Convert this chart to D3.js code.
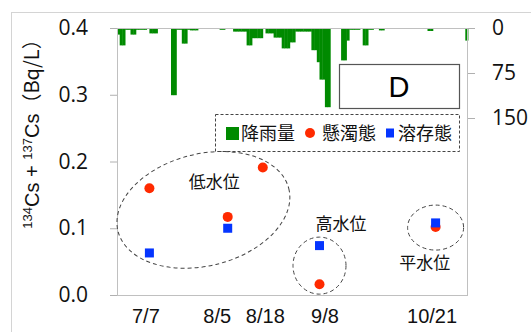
<!DOCTYPE html>
<html><head><meta charset="utf-8">
<script src="https://cdn.jsdelivr.net/npm/d3@7"></script>
<style>body{margin:0;background:#fff}svg{display:block}</style>
</head><body>
<script>
// ---- data ----
const rainStart = "2011-06-25";
const rainfall = [11,29,29,3,3,11,11,3,3,3,3,0,9,9,9,0,0,0,0,0,
  112,112,3,3,26,26,3,4,4,4,0,0,0,0,0,0,0,0,3,3,
  0,0,0,6,6,6,6,6,29,29,17,17,17,17,0,9,9,9,16,16,
  16,34,34,34,24,24,6,6,6,6,6,6,37,37,57,86,86,132,132,0,
  0,0,0,54,54,21,3,3,3,3,0,29,29,3,3,0,0,4,4,0,
  0,0,0,0,0,0,0,0,0,0,0,0,0,0,0,5,5,0,0,0,
  0,0,0,0,0,0,0,0,0,21];
const sampleDates = ["2011-07-07","2011-08-05","2011-08-18","2011-09-08","2011-10-21"];
const suspended = [0.160, 0.117, 0.191, 0.016, 0.102];
const dissolved = [0.063, 0.100, null, 0.074, 0.108];
const xTickLabels = ["7/7","8/5","8/18","9/8","10/21"];
const yTicks = [0, 0.1, 0.2, 0.3, 0.4];
const rainTicks = [0, 75, 150];
const legendLabels = ["降雨量","懸濁態","溶存態"];
const groupNames = ["低水位","高水位","平水位"];
const groupCenterDates = ["2011-07-27","2011-09-08","2011-10-21"];
const groupCenterValues = [0.1275, 0.044, 0.101];
const groupLabelDates = ["2011-07-31","2011-09-16","2011-10-17"];
const groupLabelValues = [0.169, 0.106, 0.048];
const panelLabel = "D";

// ---- layout / style ----
const W = 531, H = 332;
const L = 117, R = 468, T = 28, B = 295;
const tickNudge = [-4, -11, 2, 5, -4];
const ellipseShape = [{rx:88, ry:56, rot:-14},{rx:26.5, ry:28.5, rot:0},{rx:28, ry:22.5, rot:0}];
const green = "#008a00", red = "#ff2a00", blue = "#0535ff";
const parse = d3.timeParse("%Y-%m-%d");

const svg = d3.select("body").append("svg").attr("width", W).attr("height", H);
svg.append("rect").attr("width", W).attr("height", H).attr("fill", "#fff");
svg.append("rect").attr("x", 11.5).attr("y", 12.5).attr("width", 700).attr("height", 500)
  .attr("fill", "none").attr("stroke", "#d4d4d4");

const x = d3.scaleTime().domain([parse("2011-06-25"), parse("2011-11-02")]).range([L, R]);
const y = d3.scaleLinear().domain([0, 0.4]).range([B, T]);
const yr = d3.scaleLinear().domain([0, 150]).range([T, T + 90]);

// rainfall bars
const s0 = parse(rainStart);
const rainData = rainfall.map((v, i) => ({d: d3.timeDay.offset(s0, i), v}));
svg.append("g").selectAll("rect").data(rainData.filter(r => r.v > 0)).join("rect")
  .attr("x", r => x(r.d))
  .attr("width", r => x(d3.timeDay.offset(r.d, 1)) - x(r.d) + 0.4)
  .attr("y", yr(0))
  .attr("height", r => yr(r.v) - yr(0))
  .attr("fill", green);

// plot frame
svg.append("rect").attr("x", L + 0.5).attr("y", T + 0.5).attr("width", R - L - 1).attr("height", B - T)
  .attr("fill", "none").attr("stroke", "#c0c0c0");

// left axis
const fontNum = "'Open Sans', 'Noto Sans', sans-serif";
const ly = svg.append("g").attr("transform", `translate(${L},0)`)
  .call(d3.axisLeft(y).tickValues(yTicks).tickFormat(d3.format(".1f")).tickSize(7).tickPadding(22));
ly.select(".domain").remove();
ly.selectAll("line").attr("stroke", "#b0b0b0");
ly.selectAll("text").attr("font-family", fontNum).attr("font-size", 21).attr("fill", "#111");

// right axis
const ry = svg.append("g").attr("transform", `translate(${R},0)`)
  .call(d3.axisRight(yr).tickValues(rainTicks).tickSize(7).tickPadding(17));
ry.select(".domain").remove();
ry.selectAll("line").attr("stroke", "#b0b0b0");
ry.selectAll("text").attr("font-family", fontNum).attr("font-size", 21).attr("fill", "#111");

// bottom axis labels
const bx = svg.append("g").attr("transform", `translate(0,${B})`)
  .call(d3.axisBottom(x).tickValues(sampleDates.map(parse)).tickFormat((d, i) => xTickLabels[i]).tickSize(0).tickPadding(14));
bx.select(".domain").remove();
bx.selectAll("text").attr("font-family", "'Liberation Sans', Arial, sans-serif").attr("font-size", 20)
  .attr("fill", "#111").attr("dx", (d, i) => tickNudge[i]);

// y title
const yt = svg.append("text").attr("transform", "translate(39,129) rotate(-90)")
  .attr("text-anchor", "middle").attr("font-family", "'Liberation Sans', 'Noto Sans CJK JP', sans-serif")
  .attr("font-size", 20).attr("fill", "#111");
yt.append("tspan").attr("font-size", 13).attr("dy", -7).text("134");
yt.append("tspan").attr("dy", 7).text("Cs + ");
yt.append("tspan").attr("font-size", 13).attr("dy", -7).text("137");
yt.append("tspan").attr("dy", 7).text("Cs");
yt.append("tspan").attr("font-family", "'Noto Sans CJK JP', sans-serif").text("（Bq/L）");

// D box
svg.append("rect").attr("x", 339.5).attr("y", 64.5).attr("width", 120).attr("height", 44)
  .attr("fill", "#fff").attr("stroke", "#555").attr("stroke-width", 1.2);
svg.append("text").attr("x", 399).attr("y", 97).attr("text-anchor", "middle")
  .attr("font-family", "'Liberation Sans', Arial, sans-serif").attr("font-size", 29).text(panelLabel);

// legend
const lg = svg.append("g");
lg.append("rect").attr("x", 215.5).attr("y", 114.5).attr("width", 244).attr("height", 37)
  .attr("fill", "#fff").attr("stroke", "#444").attr("stroke-dasharray", "3,2");
const cjk = "'Noto Sans CJK JP', sans-serif";
lg.append("rect").attr("x", 226).attr("y", 127).attr("width", 13).attr("height", 13).attr("fill", green);
lg.append("circle").attr("cx", 310).attr("cy", 133).attr("r", 5).attr("fill", red);
lg.append("rect").attr("x", 386).attr("y", 128.5).attr("width", 8).attr("height", 9).attr("fill", blue);
[[241, 0], [322, 1], [398, 2]].forEach(([lx, i]) =>
  lg.append("text").attr("x", lx).attr("y", 140).attr("font-family", cjk).attr("font-size", 18)
    .attr("fill", "#111").text(legendLabels[i]));

// group ellipses and labels
groupNames.forEach((name, i) => {
  const cx = x(parse(groupCenterDates[i])), cy = y(groupCenterValues[i]);
  const s = ellipseShape[i];
  svg.append("ellipse").attr("cx", 0).attr("cy", 0).attr("rx", s.rx).attr("ry", s.ry)
    .attr("transform", `translate(${cx},${cy}) rotate(${s.rot})`)
    .attr("fill", "none").attr("stroke", "#444").attr("stroke-width", 1).attr("stroke-dasharray", "4,3");
  svg.append("text").attr("x", x(parse(groupLabelDates[i]))).attr("y", y(groupLabelValues[i]))
    .attr("dy", "0.35em").attr("text-anchor", "middle").attr("font-family", cjk).attr("font-size", 17)
    .attr("fill", "#111").text(name);
});

// points
const pts = sampleDates.map((d, i) => ({d: parse(d), s: suspended[i], w: dissolved[i]}));
svg.append("g").selectAll("circle").data(pts.filter(p => p.s != null)).join("circle")
  .attr("cx", p => x(p.d)).attr("cy", p => y(p.s)).attr("r", 5).attr("fill", red);
svg.append("g").selectAll("rect").data(pts.filter(p => p.w != null)).join("rect")
  .attr("x", p => x(p.d) - 4.5).attr("y", p => y(p.w) - 4.5).attr("width", 9).attr("height", 9).attr("fill", blue);
</script>
</body></html>
